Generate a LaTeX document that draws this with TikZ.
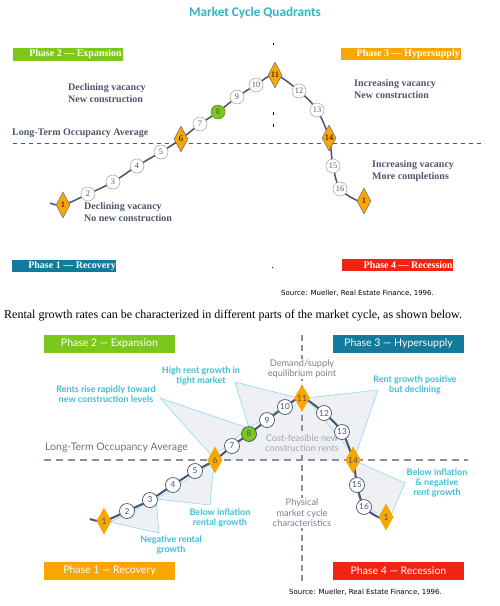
\documentclass[tikz,border=0pt]{standalone}
\usepackage{fontspec}
\setmainfont{Liberation Serif}
\newfontfamily\lato{Lato}
\newfontfamily\carl{Carlito}
\newfontfamily\dejav{DejaVu Sans}
\usetikzlibrary{shapes.geometric}
\definecolor{curveC}{HTML}{4A5470}
\definecolor{txtG}{HTML}{4F566B}
\definecolor{orng}{HTML}{F9A602}
\definecolor{grn}{HTML}{7CC81A}
\definecolor{tealB}{HTML}{127A9B}
\definecolor{redB}{HTML}{F02410}
\definecolor{cyanT}{HTML}{3DBFD6}
\definecolor{calloutFill}{HTML}{EEF0F3}
\definecolor{calloutLine}{HTML}{9ADDEB}
\definecolor{dashG}{HTML}{8A90A0}
\definecolor{titleC}{HTML}{33B2C6}
\definecolor{lightT}{HTML}{7A8090}
\tikzset{
 tcirc/.style={circle, fill=white, draw=gray!75, line width=0.5pt, minimum size=14pt, inner sep=0pt, font=\fontsize{8.3}{9}\selectfont, text=txtG},
 tdia/.style={diamond, fill=orng, draw=curveC!85, line width=0.5pt, minimum width=14pt, minimum height=26pt, inner sep=0pt, font=\fontsize{8.5}{9}\selectfont},
 bcirc/.style={circle, fill=white, draw=curveC, line width=0.7pt, minimum size=15pt, inner sep=0pt, font=\lato\fontsize{8.3}{9}\selectfont, text=curveC},
 bdia/.style={diamond, fill=orng, minimum width=15pt, minimum height=27pt, inner sep=0pt, font=\lato\fontsize{8.5}{9}\selectfont, text=curveC},
 ttext/.style={font=\bfseries\fontsize{10}{12}\selectfont, text=txtG, align=left, anchor=west, inner sep=0pt},
 tphase/.style={font=\bfseries\fontsize{10}{10}\selectfont, text=white, anchor=east, inner sep=0pt},
 bphase/.style={font=\lato\fontsize{10.5}{12}\selectfont, text=white, minimum width=131pt, minimum height=18pt, inner sep=0pt},
 callout/.style={fill=calloutFill, draw=calloutLine, line width=0.7pt, line join=round},
 ctext/.style={font=\lato\bfseries\fontsize{9}{9.6}\selectfont, text=cyanT, align=center, inner sep=0pt},
 gtext/.style={font=\lato\fontsize{9.2}{10.5}\selectfont, text=lightT, align=center, inner sep=1pt},
 srctext/.style={font=\dejav\fontsize{7}{8}\selectfont, inner sep=0pt}
}
\begin{document}
\begin{tikzpicture}[x=1pt,y=-1pt]
\useasboundingbox (0,0) rectangle (499,606);
\fill[white] (0,0) rectangle (499,606);

% ================= TOP CHART =================
\node[font=\carl\bfseries\fontsize{13.2}{14}\selectfont, text=titleC] (title) at (255,13) {Market Cycle Quadrants};

% phase boxes
\fill[grn] (13,48) rectangle (123,61);
\node[tphase] (tp2) at (122,54.5) {Phase 2 — Expansion};
\fill[orng] (341,48) rectangle (461,60);
\node[tphase] (tp3) at (460,54) {Phase 3 — Hypersupply};
\fill[tealB] (12,260) rectangle (116,272);
\node[tphase] (tp1) at (116,266) {Phase 1 — Recovery};
\fill[redB] (342,259) rectangle (453,271);
\node[tphase] (tp4) at (453,265) {Phase 4 — Recession};

% axes
\draw[curveC, line width=0.8pt, dash pattern=on 4pt off 4pt] (13,143) -- (485,143);
\draw[black, line width=0.8pt] (273,43) -- (273,45) (273,112) -- (273,115) (273,124) -- (273,127) (272,267) -- (272,268);
\node[ttext] (tlt) at (12,133) {Long-Term Occupancy Average};

% texts
\node[ttext] (tq2) at (68,93.5) {Declining vacancy\\New construction};
\node[ttext] (tq3) at (354,89.5) {Increasing vacancy\\New construction};
\node[ttext] (tq1) at (84,212) {Declining vacancy\\No new construction};
\node[ttext] (tq4) at (372,171.5) {Increasing vacancy\\More completions};

% curve
\coordinate (ts) at (50,203);
\coordinate (tc1) at (63,205);
\coordinate (tc2) at (88,194);
\coordinate (tc3) at (113,182);
\coordinate (tc4) at (137,166);
\coordinate (tc5) at (161,152);
\coordinate (tc6) at (181,139);
\coordinate (tc7) at (200,124);
\coordinate (tc8) at (218,112);
\coordinate (tc9) at (237,97);
\coordinate (tc10) at (256,85);
\coordinate (tc11) at (275,75);
\coordinate (tc12) at (299,91);
\coordinate (tc13) at (317,110);
\coordinate (tc14) at (329,138);
\coordinate (tc15) at (333,166);
\coordinate (tc16) at (340,189);
\coordinate (te) at (364,201);
\draw[curveC, line width=1.5pt] plot[smooth, tension=0.55] coordinates {(ts) (tc1) (tc2) (tc3) (tc4) (tc5) (tc6) (tc7) (tc8) (tc9) (tc10) (tc11) (tc12) (tc13) (tc14) (tc15) (tc16) (358,201)};

\node[tdia] (t1) at (tc1) {1};
\node[tcirc] (t2) at (tc2) {2};
\node[tcirc] (t3) at (tc3) {3};
\node[tcirc] (t4) at (tc4) {4};
\node[tcirc] (t5) at (tc5) {5};
\node[tdia] (t6) at (tc6) {6};
\node[tcirc] (t7) at (tc7) {7};
\node[tcirc, fill=grn, draw=grn!70!black] (t8) at (tc8) {8};
\node[tcirc] (t9) at (tc9) {9};
\node[tcirc] (t10) at (tc10) {10};
\node[tdia] (t11) at (tc11) {11};
\node[tcirc] (t12) at (tc12) {12};
\node[tcirc] (t13) at (tc13) {13};
\node[tdia] (t14) at (tc14) {14};
\node[tcirc] (t15) at (tc15) {15};
\node[tcirc] (t16) at (tc16) {16};
\node[tdia] (t1e) at (te) {1};

\node[srctext, anchor=west] (tsrc) at (281,293) {Source: Mueller, Real Estate Finance, 1996.};

% ================= MIDDLE SENTENCE =================
\node[font=\fontsize{12}{14}\selectfont, anchor=west, inner sep=0pt] (sent) at (4,316) {Rental growth rates can be characterized in different parts of the market cycle, as shown below.};

% ================= BOTTOM CHART =================
\coordinate (bs) at (90,519);
\coordinate (bc1) at (104,521);
\coordinate (bc2) at (127,511);
\coordinate (bc3) at (150,500);
\coordinate (bc4) at (173,485);
\coordinate (bc5) at (195,471);
\coordinate (bc6) at (215,460);
\coordinate (bc7) at (232,446);
\coordinate (bc8) at (249,434);
\coordinate (bc9) at (267,420);
\coordinate (bc10) at (285,407);
\coordinate (bc11) at (302,398);
\coordinate (bc12) at (324,413);
\coordinate (bc13) at (342,432);
\coordinate (bc14) at (353,460);
\coordinate (bc15) at (357,485);
\coordinate (bc16) at (364,507);
\coordinate (be) at (386,517);

% cost-feasible area under arc
\fill[calloutFill] plot[smooth, tension=0.55] coordinates {(bc6) (bc7) (bc8) (bc9) (bc10) (bc11) (bc12) (bc13) (bc14)} -- cycle;

% callouts
\draw[callout] (110,522) -- (159,533) -- (156,499) -- cycle;
\draw[callout] (156,499) -- (210,505) -- (214,462) -- cycle;
\draw[callout] (213,457) -- (160,398) -- (248,428) -- cycle;
\draw[callout] (235,382) -- (249,428) -- (298,398) -- cycle;
\draw[callout] (306,398) -- (378,390) -- (355,456) -- cycle;
\draw[callout] (353,460) -- (405,483) -- (392,513) -- (386,517) -- (364,507) -- (357,485) -- cycle;

% phase boxes
\node[bphase, fill=grn] (bp2) at (109.5,344) {Phase 2 — Expansion};
\node[bphase, fill=tealB] (bp3) at (398.5,344) {Phase 3 — Hypersupply};
\node[bphase, fill=orng] (bp1) at (109.5,571) {Phase 1 — Recovery};
\node[bphase, fill=redB] (bp4) at (398.5,571) {Phase 4 — Recession};

% axes
\draw[dashG, line width=1.4pt, dash pattern=on 7pt off 5pt] (44,460) -- (468,460);
\draw[dashG, line width=1.4pt, dash pattern=on 6pt off 4pt] (302,335) -- (302,583);
\node[font=\lato\fontsize{10.5}{12}\selectfont, text=lightT!90!black, anchor=west, inner sep=0pt] (blt) at (45,448) {Long-Term Occupancy Average};

\node[gtext, fill=white] (bdem) at (302,369) {Demand/supply\\equilibrium point};
\node[gtext, fill=calloutFill, text=lightT!70] (bcost) at (302,443) {Cost-feasible new\\construction rents};
\node[gtext, fill=white] (bphys) at (302,513) {Physical\\market cycle\\characteristics};

% callout texts
\node[ctext] (cr1) at (106,394) {Rents rise rapidly toward\\new construction levels};
\node[ctext] (cr2) at (201,376) {High rent growth in\\tight market};
\node[ctext] (cr3) at (415,385) {Rent growth positive\\but declining};
\node[ctext] (cr4) at (437,483) {Below inflation\\\& negative\\rent growth};
\node[ctext] (cr5) at (220,518) {Below inflation\\rental growth};
\node[ctext] (cr6) at (171,545) {Negative rental\\growth};

% curve
\draw[curveC, line width=2pt] plot[smooth, tension=0.55] coordinates {(bs) (bc1) (bc2) (bc3) (bc4) (bc5) (bc6) (bc7) (bc8) (bc9) (bc10) (bc11) (bc12) (bc13) (bc14) (bc15) (bc16) (380,518)};

\node[bdia] (b1) at (bc1) {1};
\node[bcirc] (b2) at (bc2) {2};
\node[bcirc] (b3) at (bc3) {3};
\node[bcirc] (b4) at (bc4) {4};
\node[bcirc] (b5) at (bc5) {5};
\node[bdia] (b6) at (bc6) {6};
\node[bcirc] (b7) at (bc7) {7};
\node[bcirc, fill=grn] (b8) at (bc8) {8};
\node[bcirc] (b9) at (bc9) {9};
\node[bcirc] (b10) at (bc10) {10};
\node[bdia] (b11) at (bc11) {11};
\node[bcirc] (b12) at (bc12) {12};
\node[bcirc] (b13) at (bc13) {13};
\node[bdia] (b14) at (bc14) {14};
\node[bcirc] (b15) at (bc15) {15};
\node[bcirc] (b16) at (bc16) {16};
\node[bdia] (b1e) at (be) {1};

\node[srctext, anchor=west] (bsrc) at (289,592) {Source: Mueller, Real Estate Finance, 1996.};
\end{tikzpicture}
\end{document}
